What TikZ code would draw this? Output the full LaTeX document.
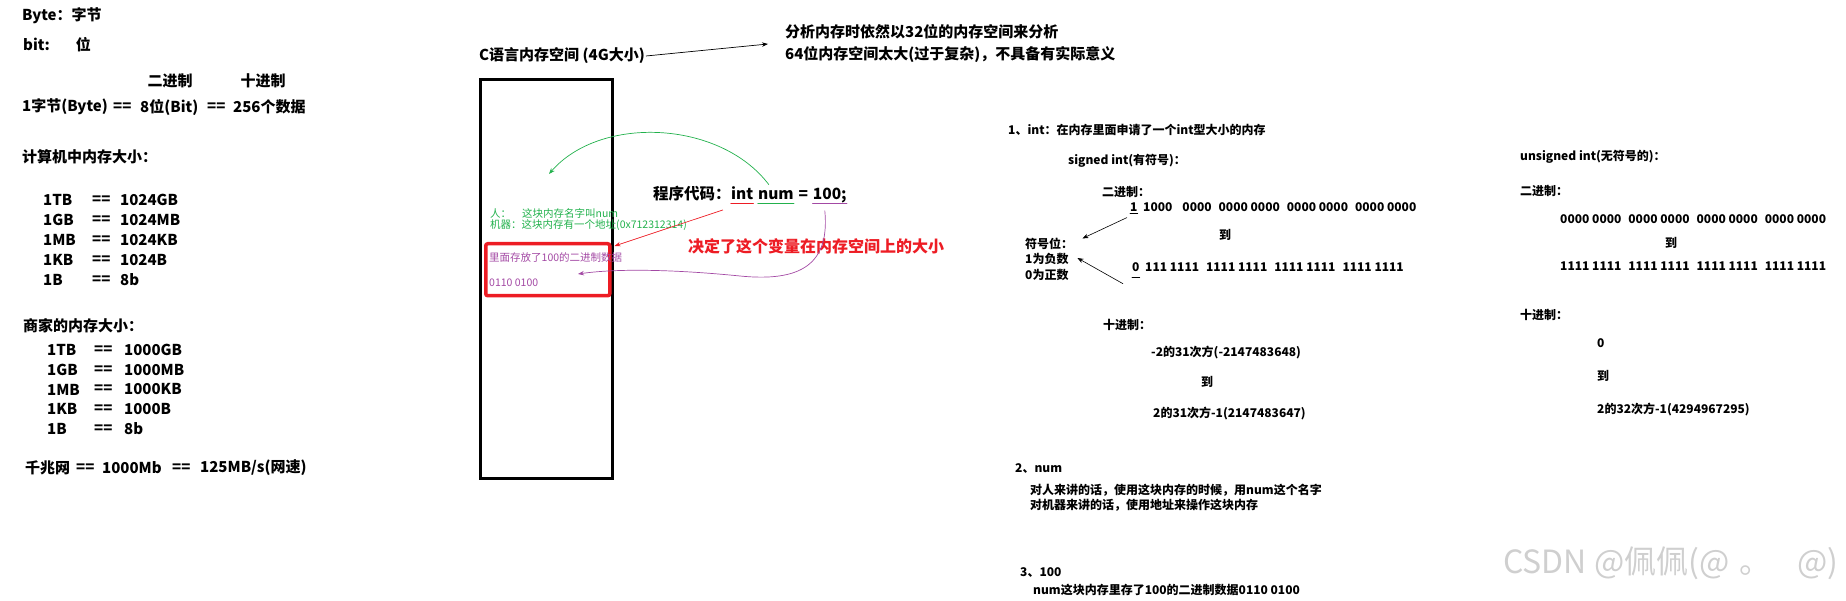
\documentclass[tikz,border=0pt]{standalone}
\usepackage{fontspec}
\setmainfont{Noto Sans CJK SC}
\usetikzlibrary{arrows.meta, positioning}
\definecolor{cgreen}{HTML}{22B14C}
\definecolor{cred}{HTML}{ED1C24}
\definecolor{cpurple}{HTML}{A349A4}
\definecolor{cmark}{HTML}{CFCFCF}
\newcommand{\bgap}{\hspace{7pt}}
\tikzset{
  every picture/.style={x=1pt, y=-1pt},
  big/.style={font=\bfseries\fontsize{15}{18}\selectfont, anchor=west, inner sep=0pt},
  code/.style={font=\bfseries\fontsize{15.5}{19}\selectfont, anchor=west, inner sep=0pt},
  small/.style={font=\bfseries\fontsize{12}{15.5}\selectfont, anchor=west, inner sep=0pt, align=left},
  tiny/.style={font=\fontsize{10.5}{12}\selectfont, anchor=west, inner sep=0pt},
  arrow/.style={-{Stealth[length=6pt, width=4.5pt]}, line width=0.7pt},
  uline/.style={line width=1pt, line cap=round},
}

\begin{document}
\begin{tikzpicture}
  \useasboundingbox (0,0) rectangle (1846,601);
  % units and sizes
  \node[big] (byte) at (22,16) {Byte：字节};
  \node[big] (bit) at (23,45) {bit:\hspace{26pt}位};
  \node[big, anchor=center] (bin) at (170,81) {二进制};
  \node[big, anchor=center] (dec) at (263,81) {十进制};
  \foreach \x/\t [count=\i] in {22/{1字节(Byte)}, 113/==, 140/{8位(Bit)}, 207/==, 233/{256个数据}}
    \node[big] (conv\i) at (\x,107) {\t};
  \node[big] (pc) at (22,157) {计算机中内存大小：};
  \foreach \u/\v [count=\i] in {1TB/1024GB, 1GB/1024MB, 1MB/1024KB, 1KB/1024B, 1B/8b} {
    \node[big] (pcu\i) at (43,{200+20*(\i-1)}) {\u};
    \node[big] (pce\i) at (92,{200+20*(\i-1)}) {==};
    \node[big] (pcv\i) at (120,{200+20*(\i-1)}) {\v};
  }
  \node[big] (shop) at (23,326) {商家的内存大小：};
  \foreach \u/\v [count=\i] in {1TB/1000GB, 1GB/1000MB, 1MB/1000KB, 1KB/1000B, 1B/8b} {
    \node[big] (shu\i) at (47,{350+19.75*(\i-1)}) {\u};
    \node[big] (she\i) at (94,{350+19.75*(\i-1)}) {==};
    \node[big] (shv\i) at (124,{350+19.75*(\i-1)}) {\v};
  }
  \foreach \x/\t [count=\i] in {25/千兆网, 76/==, 102/1000Mb, 172/==, 200/{125MB/s(网速)}}
    \node[big] (net\i) at (\x,468) {\t};

  % memory of a C program
  \node[big] (ctitle) at (479,56) {C语言内存空间 (4G大小)};
  \node[big] (note1) at (785,32) {分析内存时依然以32位的内存空间来分析};
  \node[big] (note2) at (785,54) {64位内存空间太大(过于复杂)，不具备有实际意义};
  \coordinate (notein) at (768,44);
  \draw[arrow] ([xshift=1pt]ctitle.east) -- (notein);
  \node[draw, line width=3pt, minimum width=132pt, minimum height=399pt, anchor=north west] (mem) at (479,78) {};
  \node[draw=cred, line width=3.5pt, rounded corners=2pt, minimum width=124pt, minimum height=52pt, anchor=north west] (slot) at (484,242) {};
  \node[tiny, text=cgreen] (human) at (490,213) {人：\hspace{11pt}这块内存名字叫num};
  \node[tiny, text=cgreen] (machine) at (490,225) {机器：这块内存有一个地址(0x712312314)};
  \node[tiny, text=cpurple] (stored) at (489,258) {里面存放了100的二进制数据};
  \node[tiny, text=cpurple] (bits) at (489,283) {0110 0100};

  \node[code] (code) at (653,194) {程序代码：};
  \node[code, anchor=base west] (kint) at (code.base east) {int};
  \node[code, anchor=base west] (knum) at ([xshift=4.5pt]kint.base east) {num};
  \node[code, anchor=base west] (keq) at ([xshift=4.5pt]knum.base east) {=};
  \node[code, anchor=base west] (k100) at ([xshift=4.5pt]keq.base east) {100;};
  \draw[uline, cred] ([yshift=-4pt]kint.base west) -- ([yshift=-4pt]kint.base east);
  \draw[uline, cgreen] ([yshift=-4pt]knum.base west) -- ([yshift=-4pt]knum.base east);
  \draw[uline, cpurple] ([yshift=-4pt]k100.base west) -- ([yshift=-4pt]k100.base east);
  \node[code, font=\bfseries\fontsize{16}{19}\selectfont, text=cred] (size) at (688,246) {决定了这个变量在内存空间上的大小};

  \coordinate (namept) at (549,174);
  \coordinate (datapt) at (578,274);
  \draw[arrow, cgreen] ([shift={(-7,-6)}]knum.north) .. controls (720,120) and (600,115) .. (namept);
  \draw[arrow, cred] ([shift={(-8,10)}]kint.base west) -- ([shift={(3,4)}]slot.north east);
  \draw[arrow, cpurple] ([shift={(-5,7)}]k100.south) .. controls (830,265) and (800,282) .. (740,276)
    .. controls (680,270) and (620,268) .. (datapt);

  % 1, int
  \node[small] (q1) at (1008,130) {1、int：在内存里面申请了一个int型大小的内存};
  \node[small] (signed) at (1068,161) {signed int(有符号)：};
  \node[small] (sbin) at (1102,192) {二进制：};
  \node[small] (smin1) at (1130,207) {1};
  \node[small] (sminb) at (1143,207) {1000\hspace{10pt}0000\bgap 0000 0000\bgap 0000 0000\bgap 0000 0000};
  \node[small] (sto) at (1219,235) {到};
  \node[small] (smax0) at (1132,267) {0};
  \node[small] (smaxb) at (1145,267) {111 1111\bgap 1111 1111\bgap 1111 1111\bgap 1111 1111};
  \draw[uline, line width=0.8pt] ([yshift=-2pt]smin1.south west) -- ([yshift=-2pt]smin1.south east);
  \draw[uline, line width=0.8pt] ([yshift=-6pt]smax0.south west) -- ([yshift=-6pt]smax0.south east);
  \node[small] (sign) at (1025,259) {符号位：\\1为负数\\0为正数};
  \draw[arrow, line width=0.6pt] ([shift={(-3,6)}]smin1.south west) -- ([shift={(9,1)}]sign.north east);
  \draw[arrow, line width=0.6pt] ([shift={(-9,12)}]smax0.south west) -- ([shift={(4,-1)}]sign.east);
  \node[small] (sdec) at (1103,325) {十进制：};
  \node[small] (sdmin) at (1151,352) {-2的31次方(-2147483648)};
  \node[small] (sdto) at (1201,382) {到};
  \node[small] (sdmax) at (1153,413) {2的31次方-1(2147483647)};

  % 2, num and 3, 100
  \node[small] (q2) at (1015,469) {2、num};
  \node[small] (q2a) at (1030,490) {对人来讲的话，使用这块内存的时候，用num这个名字};
  \node[small] (q2b) at (1030,505) {对机器来讲的话，使用地址来操作这块内存};
  \node[small] (q3) at (1020,573) {3、100};
  \node[small] (q3a) at (1033,590) {num这块内存里存了100的二进制数据0110 0100};

  % unsigned int
  \node[small] (uns) at (1520,157) {unsigned int(无符号的)：};
  \node[small] (ubin) at (1520,191) {二进制：};
  \node[small] (umin) at (1560,219) {0000 0000\bgap 0000 0000\bgap 0000 0000\bgap 0000 0000};
  \node[small] (uto) at (1665,243) {到};
  \node[small] (umax) at (1560,266) {1111 1111\bgap 1111 1111\bgap 1111 1111\bgap 1111 1111};
  \node[small] (udec) at (1520,315) {十进制：};
  \node[small] (udmin) at (1597,343) {0};
  \node[small] (udto) at (1597,376) {到};
  \node[small] (udmax) at (1597,409) {2的32次方-1(4294967295)};

  \node[font=\fontsize{32}{36}\selectfont, text=cmark, anchor=west, inner sep=0pt] (wm) at (1503,563) {CSDN @佩佩(@\hspace{10pt}。\hspace{26pt}@)};
\end{tikzpicture}
\end{document}
